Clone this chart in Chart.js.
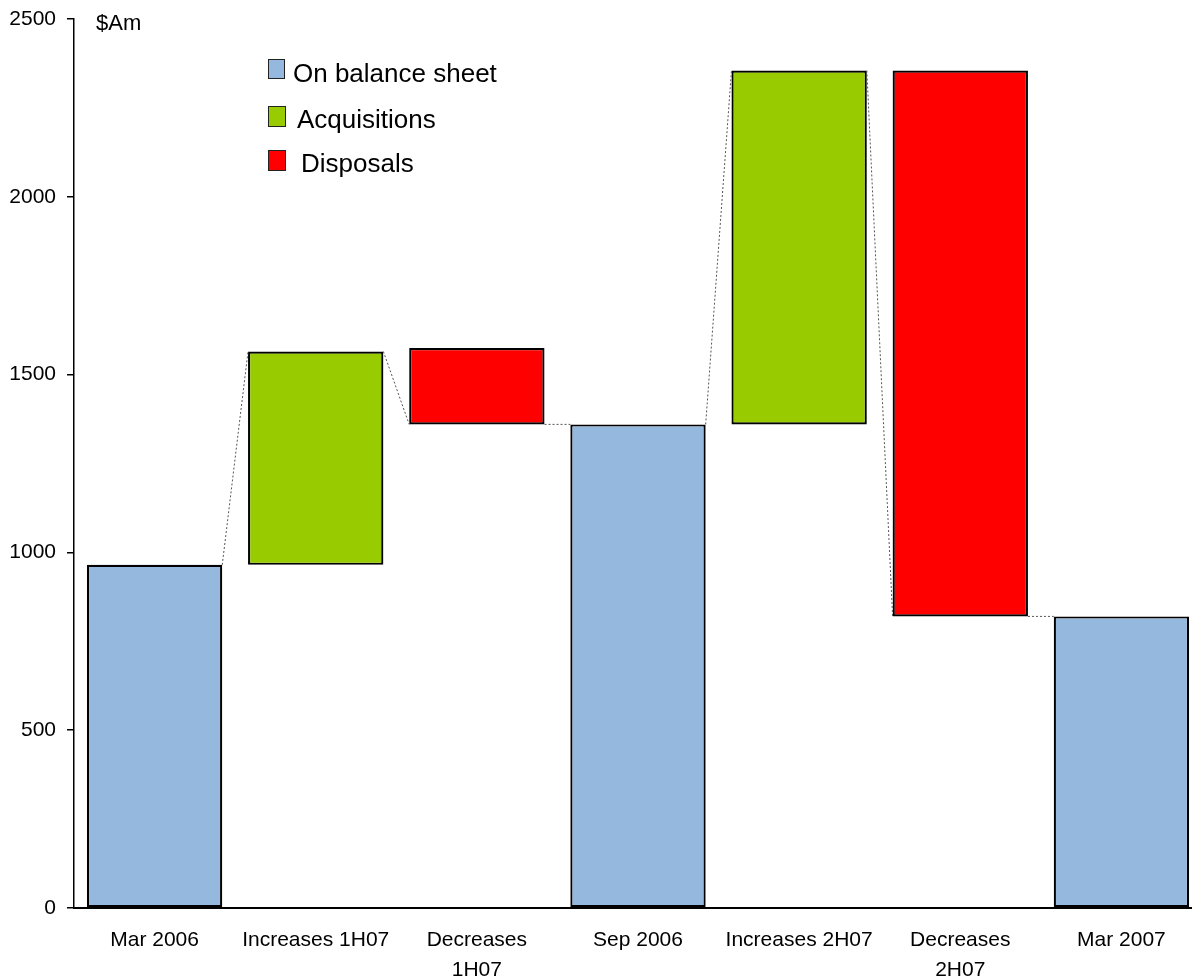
<!DOCTYPE html>
<html>
<head>
<meta charset="utf-8">
<script src="https://cdn.jsdelivr.net/npm/chart.js@4/dist/chart.umd.min.js"></script>
<style>
  html, body { margin: 0; padding: 0; background: #fff; overflow: hidden; }
  #wrap { width: 1202px; height: 978px; }
</style>
</head>
<body>
<div id="wrap"><canvas id="c" width="1202" height="978"></canvas></div>
<script>
// Categories along the x axis (multi-line where the label wraps)
const categories = [
  ['Mar 2006'],
  ['Increases 1H07'],
  ['Decreases', '1H07'],
  ['Sep 2006'],
  ['Increases 2H07'],
  ['Decreases', '2H07'],
  ['Mar 2007']
];

// Balances ($Am), drawn from zero
const onBalanceSheet = [965, null, null, 1360, null, null, 820];
// Acquisitions: [from, to]
const acquisitions = [null, [965, 1565], null, null, [1360, 2355], null, null];
// Disposals: [to, from]
const disposals = [null, null, [1360, 1575], null, null, [820, 2355], null];

const yTicks = [0, 500, 1000, 1500, 2000, 2500];
const yUnit = '$Am';

const FONT = '"Liberation Sans", Arial, Helvetica, sans-serif';
const COLORS = { balance: '#95B9DE', acq: '#99CC00', disp: '#FF0000' };

// Level at which each bar "ends" – the point the dotted connectors join
function endLevel(chart, i) {
  const ds = chart.data.datasets;
  for (const d of ds) {
    const v = d.data[i];
    if (v === null || v === undefined) continue;
    if (!Array.isArray(v)) return v;
    return d.kind === 'disp' ? Math.min(v[0], v[1]) : Math.max(v[0], v[1]);
  }
  return null;
}
function barElement(chart, i) {
  for (let k = 0; k < chart.data.datasets.length; k++) {
    const v = chart.data.datasets[k].data[i];
    if (v !== null && v !== undefined) return chart.getDatasetMeta(k).data[i];
  }
  return null;
}

const connectors = {
  id: 'connectors',
  afterDatasetsDraw(chart) {
    const ctx = chart.ctx, y = chart.scales.y;
    ctx.save();
    ctx.strokeStyle = '#555';
    ctx.lineWidth = 1;
    ctx.setLineDash([2, 2]);
    for (let i = 0; i < categories.length - 1; i++) {
      const a = barElement(chart, i), b = barElement(chart, i + 1);
      if (!a || !b) continue;
      const x1 = a.x + a.width / 2, x2 = b.x - b.width / 2;
      const y1 = y.getPixelForValue(endLevel(chart, i));
      const y2 = y.getPixelForValue(endLevel(chart, i + 1));
      ctx.beginPath();
      ctx.moveTo(x1, y1);
      ctx.lineTo(x2, y2);
      ctx.stroke();
    }
    ctx.restore();
  }
};

// Legend inside the plot plus the unit label at the top of the value axis
const annotations = {
  id: 'annotations',
  afterDraw(chart) {
    const ctx = chart.ctx;
    ctx.save();
    ctx.fillStyle = '#000';
    ctx.textBaseline = 'alphabetic';
    ctx.font = '22px ' + FONT;
    ctx.fillText(yUnit, 96, 30);

    const rows = [
      { box: [268, 59, 17, 20], tx: 293, ty: 82 },
      { box: [268, 106, 18, 21], tx: 297, ty: 128 },
      { box: [268, 150, 18, 21], tx: 301, ty: 172 }
    ];
    ctx.font = '26px ' + FONT;
    chart.data.datasets.forEach((d, k) => {
      const r = rows[k];
      ctx.fillStyle = d.backgroundColor;
      ctx.fillRect(r.box[0], r.box[1], r.box[2], r.box[3]);
      ctx.strokeStyle = '#222';
      ctx.lineWidth = 1;
      ctx.strokeRect(r.box[0] + 0.5, r.box[1] + 0.5, r.box[2] - 1, r.box[3] - 1);
      ctx.fillStyle = '#000';
      ctx.fillText(d.label, r.tx, r.ty);
    });
    ctx.restore();
  }
};

const common = {
  borderColor: '#000',
  borderWidth: 2.2,
  borderSkipped: false,
  grouped: false,
  categoryPercentage: 1,
  barPercentage: 0.84
};

new Chart(document.getElementById('c'), {
  type: 'bar',
  data: {
    labels: categories,
    datasets: [
      Object.assign({ label: 'On balance sheet', kind: 'balance', data: onBalanceSheet, backgroundColor: COLORS.balance }, common),
      Object.assign({ label: 'Acquisitions', kind: 'acq', data: acquisitions, backgroundColor: COLORS.acq }, common),
      Object.assign({ label: 'Disposals', kind: 'disp', data: disposals, backgroundColor: COLORS.disp }, common)
    ]
  },
  options: {
    responsive: false,
    animation: false,
    layout: { padding: { top: 19, right: 0, bottom: 0, left: 0 } },
    plugins: { legend: { display: false }, tooltip: { enabled: false } },
    scales: {
      x: {
        grid: { display: true, drawOnChartArea: false, drawTicks: false },
        border: { display: true, color: '#000', width: 2 },
        ticks: { color: '#000', font: { family: FONT, size: 21, lineHeight: 1.43 }, padding: 17, maxRotation: 0, autoSkip: false },
        afterFit(s) { s.height = 70; }
      },
      y: {
        min: 0,
        max: 2500,
        afterBuildTicks(s) { s.ticks = yTicks.map(v => ({ value: v })); },
        grid: { drawOnChartArea: false, drawTicks: true, tickLength: 7, color: '#000', lineWidth: 1.5 },
        border: { display: true, color: '#000', width: 1.5 },
        ticks: { color: '#000', font: { family: FONT, size: 21 }, padding: 11, callback: v => String(v) },
        afterFit(s) { s.width = 74; s.paddingTop = 0; s.paddingBottom = 0; }
      }
    }
  },
  plugins: [connectors, annotations]
});
</script>
</body>
</html>
